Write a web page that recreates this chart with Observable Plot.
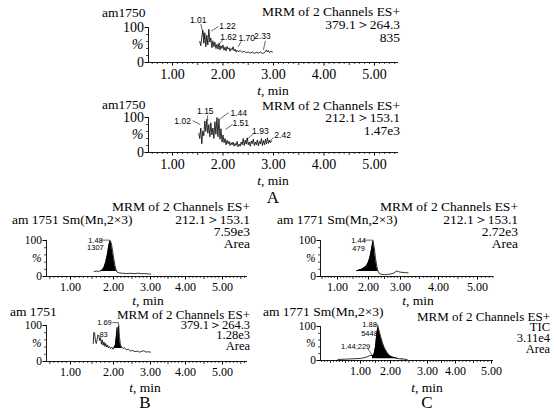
<!DOCTYPE html>
<html><head><meta charset="utf-8">
<script src="https://cdn.jsdelivr.net/npm/d3@7"></script>
<script src="https://cdn.jsdelivr.net/npm/@observablehq/plot@0.6"></script>
<style>
html,body{margin:0;padding:0;background:#fff}
#wrap{position:relative;width:554px;height:412px;overflow:hidden;background:#fff;color:#000;font-family:"Liberation Serif","Times New Roman",serif}
.t{position:absolute;white-space:nowrap;font-size:13.5px;line-height:1}
.l{transform:translate(0,-50%)}
.r{transform:translate(-100%,-50%)}
.c{transform:translate(-50%,-50%)}
</style></head><body><div id="wrap"></div>
<script>
// ---- data: panel A (top) ----
const a1Time = [1.54,1.56,1.58,1.60,1.62,1.64,1.66,1.68,1.70,1.72,1.74,1.76,1.78,1.80,1.82,1.84,1.86,1.88,1.90,1.92,1.94,1.96,1.98,2.00,2.02,2.04,2.06,2.08,2.10,2.12,2.14,2.16,2.18,2.20,2.22,2.24,2.26,2.28,2.30,2.34,2.38,2.42,2.46,2.50,2.54,2.58,2.62,2.66,2.70,2.74,2.78,2.82,2.86,2.88,2.90,2.92,2.95,2.98];
const a1Pct = [60,48,72,92,55,85,45,78,50,95,58,70,42,62,45,58,40,52,38,55,36,48,40,50,35,44,33,46,38,42,32,40,36,45,33,38,30,35,31,34,29,32,28,30,27,30,26,29,27,30,26,28,36,30,34,28,32,30];
const a1LabelText = ["1.01","1.22","1.62","1.70","2.33"];
const a1LabelT = [1.51,2.09,2.11,2.47,2.78];
const a1LabelV = [122,103,73,68,74];
const a1Leaders = [[1.56,110,1.64,66],[1.91,103,1.77,90],[1.99,64,1.92,52],[2.36,60,2.30,45],[2.84,62,2.80,36]];

const a2Time = [1.52,1.54,1.56,1.58,1.60,1.62,1.64,1.66,1.68,1.70,1.72,1.74,1.76,1.78,1.80,1.82,1.84,1.86,1.88,1.90,1.92,1.94,1.96,1.98,2.00,2.02,2.04,2.06,2.08,2.10,2.12,2.14,2.16,2.18,2.20,2.22,2.24,2.26,2.28,2.30,2.32,2.34,2.36,2.38,2.40,2.42,2.44,2.46,2.48,2.50,2.52,2.54,2.56,2.58,2.60,2.62,2.64,2.66,2.68,2.70,2.72,2.74,2.76,2.78,2.80,2.82,2.84,2.86,2.88,2.90,2.92,2.94,2.96];
const a2Pct = [55,40,70,25,62,48,90,60,95,55,80,45,85,50,70,40,88,52,100,45,97,38,68,30,50,28,40,22,35,25,32,20,28,22,30,18,26,20,32,16,24,18,30,22,40,20,35,24,42,22,30,18,33,25,38,20,30,22,36,19,32,24,40,20,34,22,38,24,42,26,35,28,33];
const a2LabelText = ["1.02","1.15","1.44","1.51","1.93","2.42"];
const a2LabelT = [1.20,1.65,2.31,2.35,2.74,3.18];
const a2LabelV = [89,117,111,83,60,49];
const a2Leaders = [[1.40,91,1.55,80],[1.69,106,1.70,91],[2.11,114,1.95,97],[2.19,80,2.05,66],[2.60,54,2.45,34],[3.0,43,2.9,29]];

// ---- data: panel B ----
const b1Time = [1.55,1.60,1.65,1.70,1.74,1.78,1.82,1.86,1.89,1.92,1.95,1.98,2.01,2.04,2.07,2.10,2.15,2.25,2.35,2.45,2.55,2.65,2.75,2.85,2.95,3.00];
const b1Pct = [14,15,14,16,18,25,40,62,85,100,92,70,48,30,18,12,10,9,8,9,8,9,8,8,7,7];
const b1LabelText = ["1.48","1307"];
const b1LabelT = [1.58,1.58];
const b1LabelV = [101,79];
const b1Leaders = [[1.70,101,1.91,101]];

const b2Time = [1.53,1.54,1.56,1.58,1.60,1.62,1.64,1.66,1.68,1.70,1.72,1.74,1.76,1.78,1.80,1.82,1.84,1.86,1.88,1.90,1.93,1.96,1.99,2.02,2.05,2.08,2.10,2.12,2.14,2.16,2.18,2.20,2.23,2.26,2.30,2.35,2.40,2.46,2.52,2.58,2.64,2.70,2.76,2.82,2.88,2.94,3.00];
const b2Pct = [50,80,80,56,50,62,74,70,58,66,48,60,45,54,42,50,40,46,38,42,36,40,34,40,45,72,95,60,100,70,52,42,40,36,38,32,34,29,31,27,29,26,28,30,26,27,26];
const b2LabelText = ["1.69","83"];
const b2LabelT = [1.79,1.77];
const b2LabelV = [108,76];
const b2Leaders = [[1.97,108,2.13,108],[2.13,108,2.14,100]];

// ---- data: panel C ----
const c1Time = [1.62,1.70,1.78,1.86,1.94,2.00,2.05,2.10,2.14,2.18,2.22,2.26,2.30,2.34,2.40,2.50,2.60,2.70,2.80,2.86,2.90,2.95,3.00,3.10,3.20];
const c1Pct = [16,18,20,24,30,40,55,78,100,80,50,28,14,8,6,5,6,7,10,14,15,13,12,11,10];
const c1LabelText = ["1.44","479"];
const c1LabelT = [1.68,1.68];
const c1LabelV = [101,78];
const c1Leaders = [[1.84,101,2.13,101]];

const c2Time = [0.25,0.50,0.75,1.00,1.10,1.20,1.30,1.35,1.40,1.45,1.50,1.54,1.58,1.62,1.68,1.74,1.80,1.88,1.96,2.05,2.15,2.25,2.35,2.45];
const c2Pct = [3,4,5,6,8,10,14,15,14,18,40,75,100,88,68,50,36,24,15,10,7,5,4,3];
const c2LabelText = ["1.88","5448","1.44;229"];
const c2LabelT = [1.30,1.30,0.84];
const c2LabelV = [105,80,42];
const c2Leaders = [[1.48,105,1.58,105],[1.58,105,1.58,100],[1.23,37,1.40,14]];

// tick labels
const majorTicks = [1, 2, 3, 4, 5];
const yTickLabels = [0, 100];

// ---- header / caption texts ----
const texts = [
  ["am1750", 102, 13, "l"], ["MRM of 2 Channels ES+", 400, 12, "r"], ["379.1＞264.3", 400, 25, "r"], ["835", 400, 38, "r"],
  ["<i>t</i>, min", 273, 91, "c"],
  ["am1750", 102, 105, "l"], ["MRM of 2 Channels ES+", 400, 106, "r"], ["212.1＞153.1", 400, 118, "r"], ["1.47e3", 400, 131, "r"],
  ["<i>t</i>, min", 273, 181, "c"], ["A", 273, 197, "c", 17],
  ["MRM of 2 Channels ES+", 250, 207, "r"], ["am 1751 Sm(Mn,2×3)", 12, 220, "l"], ["212.1＞153.1", 250, 220, "r"], ["7.59e3", 250, 232, "r"], ["Area", 250, 244, "r"],
  ["<i>t</i>, min", 148, 301, "c"],
  ["am 1751", 10, 312, "l"], ["MRM of 2 Channels ES+", 250, 314, "r", 13], ["379.1＞264.3", 250, 324.5, "r", 12.5], ["1.28e3", 250, 335, "r", 12.5], ["Area", 250, 345.5, "r", 12.5],
  ["<i>t</i>, min", 145, 388, "c"], ["B", 145, 402, "c", 17],
  ["MRM of 2 Channels ES+", 518, 207, "r"], ["am 1771 Sm(Mn,2×3)", 277, 220, "l"], ["212.1＞153.1", 518, 220, "r"], ["2.72e3", 518, 232, "r"], ["Area", 518, 244, "r"],
  ["<i>t</i>, min", 418, 301, "c"],
  ["am 1771 Sm(Mn,2×3)", 263, 312, "l"], ["MRM of 2 Channels ES+", 550, 316, "r", 13], ["TIC", 550, 327, "r", 12.5], ["3.11e4", 550, 338, "r", 12.5], ["Area", 550, 349, "r", 12.5],
  ["<i>t</i>, min", 427, 388, "c"], ["C", 427, 402, "c", 17]
];

const W = 554, H = 412;
const wrap = document.getElementById("wrap");

function panel(cfg) {
  const dom = cfg.xDomain, rng = cfg.xRange;
  const d0 = dom[0], d1 = dom[dom.length - 1];
  // the original axis is unevenly spaced: map time through a piecewise linear transform
  const warp = d3.scaleLinear().domain(dom).range(rng);
  const tenth = d3.range(Math.ceil(d0 * 10 - 1e-9), Math.floor(d1 * 10 + 1e-9) + 1).map(i => i / 10);
  const isHalf = t => Math.abs(t * 2 - Math.round(t * 2)) < 1e-6;
  const minor = tenth.filter(t => !isHalf(t));
  const half = tenth.filter(t => isHalf(t) && !majorTicks.includes(Math.round(t * 2) / 2));
  const series = cfg.time.map((t, i) => ({t, v: cfg.pct[i]}));
  const fill = cfg.fillFrom == null ? [] : series.filter(d => d.t >= cfg.fillFrom - 1e-9 && d.t <= cfg.fillTo + 1e-9);
  const labels = cfg.labelText.map((s, i) => ({s, t: cfg.labelT[i], v: cfg.labelV[i]}));
  const leaders = cfg.leaders.map(([t1, v1, t2, v2]) => ({t1, v1, t2, v2}));
  const svg = Plot.plot({
    width: W, height: H,
    marginLeft: rng[0], marginRight: W - rng[rng.length - 1],
    marginTop: cfg.y100, marginBottom: H - cfg.y0,
    x: {transform: warp, domain: [rng[0], rng[rng.length - 1]], range: [rng[0], rng[rng.length - 1]]},
    y: {domain: [0, 100], range: [cfg.y0, cfg.y100]},
    style: "position:absolute;left:0;top:0;background:transparent;overflow:visible;font-family:'Liberation Serif','Times New Roman',serif;color:#000;",
    marks: [
      fill.length ? Plot.areaY(fill, {x: "t", y1: cfg.fillBase, y2: "v", fill: "black"}) : null,
      Plot.line(series, {x: "t", y: "v", stroke: "black", strokeWidth: 0.8}),
      Plot.link(leaders, {x1: "t1", y1: "v1", x2: "t2", y2: "v2", stroke: "black", strokeWidth: 0.6}),
      Plot.text(labels, {x: "t", y: "v", text: "s", fontSize: cfg.labelSize, fontFamily: "'Liberation Sans', Arial, sans-serif"}),
      Plot.ruleY([0], {strokeWidth: 0.9}),
      Plot.ruleX([d0], {y1: 0, y2: 100, strokeWidth: 0.9}),
      Plot.axisX(minor, {tickSize: 2, fill: "none", label: null, strokeWidth: 0.7}),
      Plot.axisX(half, {tickSize: 3, fill: "none", label: null, strokeWidth: 0.8}),
      Plot.axisX(majorTicks, {tickSize: 3.5, tickPadding: cfg.tickPad, tickFormat: d3.format(".2f"), fontSize: cfg.tickFont, label: null}),
      Plot.axisY([20, 40, 60, 80], {tickSize: 2, fill: "none", label: null, strokeWidth: 0.7}),
      Plot.axisY(yTickLabels, {tickSize: 3.5, tickPadding: 1, fontSize: cfg.yFont, label: null}),
      Plot.axisY([50], {tickSize: 0, tickPadding: 5, tickFormat: () => "%", fontStyle: "italic", fontSize: cfg.yFont, label: null})
    ]
  });
  wrap.appendChild(svg);
}

const topX = {xDomain: [0.525, 5.475], xRange: [148, 398], tickFont: 14, yFont: 14, tickPad: 3, labelSize: 8.5};
panel({...topX, y0: 62, y100: 27, time: a1Time, pct: a1Pct, labelText: a1LabelText, labelT: a1LabelT, labelV: a1LabelV, leaders: a1Leaders});
panel({...topX, y0: 152, y100: 117, time: a2Time, pct: a2Pct, labelText: a2LabelText, labelT: a2LabelT, labelV: a2LabelV, leaders: a2Leaders});

const bX = {xDomain: [0.42, 1, 2, 3, 4, 5, 5.68], xRange: [46, 70, 113, 150, 185, 222, 247], tickFont: 12, yFont: 11.5, tickPad: 2, labelSize: 7.5};
panel({...bX, y0: 276, y100: 240, time: b1Time, pct: b1Pct, fillFrom: 1.70, fillTo: 2.10, fillBase: 14, labelText: b1LabelText, labelT: b1LabelT, labelV: b1LabelV, leaders: b1Leaders});
panel({...bX, y0: 361, y100: 325, time: b2Time, pct: b2Pct, fillFrom: 2.02, fillTo: 2.23, fillBase: 36, labelText: b2LabelText, labelT: b2LabelT, labelV: b2LabelV, leaders: b2Leaders});

panel({xDomain: [0.45, 1, 2, 3, 4, 5, 5.41], xRange: [320, 337, 368, 400, 438, 477, 493], tickFont: 12, yFont: 11.5, tickPad: 2, labelSize: 7.5,
  y0: 276, y100: 240, time: c1Time, pct: c1Pct, fillFrom: 1.62, fillTo: 2.30, fillBase: 14, labelText: c1LabelText, labelT: c1LabelT, labelV: c1LabelV, leaders: c1Leaders});
panel({xDomain: [-0.33, 1, 2, 3, 4, 5, 5.06], xRange: [320, 360, 390, 427, 455, 491, 493], tickFont: 12, yFont: 11.5, tickPad: 2, labelSize: 7.5,
  y0: 360, y100: 326, time: c2Time, pct: c2Pct, fillFrom: 1.40, fillTo: 2.35, fillBase: 5, labelText: c2LabelText, labelT: c2LabelT, labelV: c2LabelV, leaders: c2Leaders});

for (const [txt, x, y, align, size] of texts) {
  const el = document.createElement("div");
  el.className = "t " + align;
  el.style.left = x + "px";
  el.style.top = y + "px";
  if (size) el.style.fontSize = size + "px";
  el.innerHTML = txt;
  wrap.appendChild(el);
}
</script></body></html>
